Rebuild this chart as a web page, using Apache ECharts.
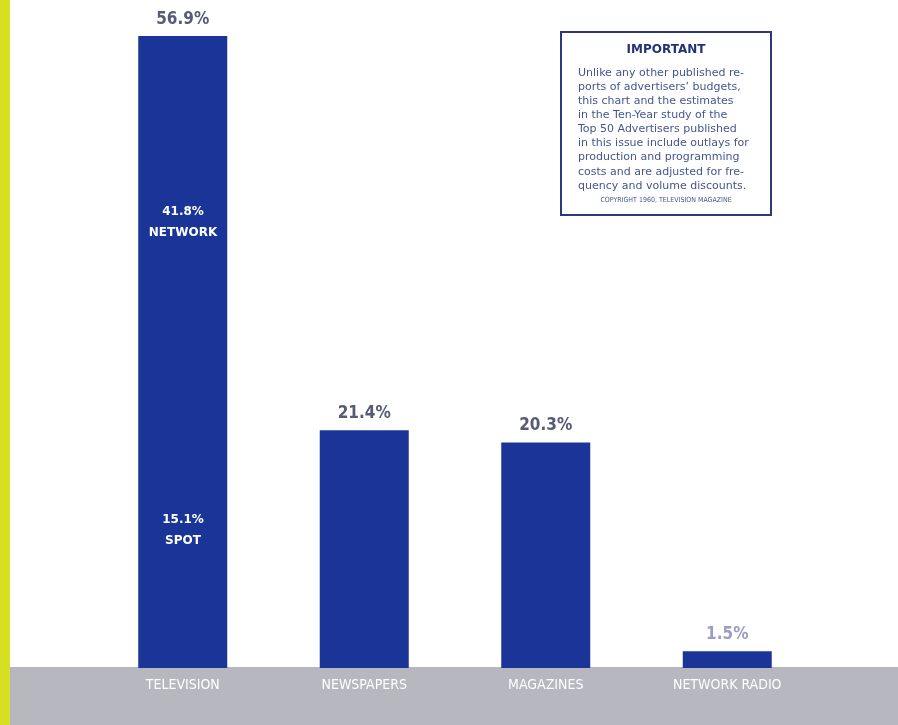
<!DOCTYPE html>
<html>
<head>
<meta charset="utf-8">
<script src="https://cdn.jsdelivr.net/npm/echarts@6/dist/echarts.min.js"></script>
<style>
html,body{margin:0;padding:0;background:#fff;}
#c{width:898px;height:725px;}
</style>
</head>
<body>
<div id="c"></div>
<script>
var categories = ['TELEVISION', 'NEWSPAPERS', 'MAGAZINES', 'NETWORK RADIO'];
var shares = [56.9, 21.4, 20.3, 1.5];
var tvSplitLabels = [['41.8%', 'NETWORK'], ['15.1%', 'SPOT']];
var noteTitle = 'IMPORTANT';
var noteLines = [
  'Unlike any other published re-',
  'ports of advertisers\u2019 budgets,',
  'this chart and the estimates',
  'in the Ten-Year study of the',
  'Top 50 Advertisers published',
  'in this issue include outlays for',
  'production and programming',
  'costs and are adjusted for fre-',
  'quency and volume discounts.'
];
var noteCopyright = 'COPYRIGHT 1960, TELEVISION MAGAZINE';

var condensed = '"DejaVu Sans Condensed"';
var chart = echarts.init(document.getElementById('c'));

var graphics = [
  {type:'rect', z:-1, shape:{x:0,y:0,width:10,height:725}, style:{fill:'#d6df22'}},
  {type:'rect', z:-1, shape:{x:10,y:667,width:888,height:58}, style:{fill:'#b7b7bf'}},
  {type:'rect', z:5, shape:{x:561,y:32,width:210,height:183}, style:{fill:'#ffffff', stroke:'#2b3a7c', lineWidth:2}},
  {type:'text', z:6, x:666, y:50, style:{text:noteTitle, fill:'#23337a', font:'bold 12px "DejaVu Sans"', align:'center', verticalAlign:'middle'}}
];
noteLines.forEach(function(t, i){
  graphics.push({type:'text', z:6, x:578, y:73 + i*14.1, style:{text:t, fill:'#44568f', font:'11px "DejaVu Sans"', align:'left', verticalAlign:'middle'}});
});
graphics.push({type:'text', z:6, x:666, y:200, style:{text:noteCopyright, fill:'#44568f', font:'7px "DejaVu Sans Condensed"', align:'center', verticalAlign:'middle'}});
var tvLabelY = [[212, 233], [520, 541]];
tvSplitLabels.forEach(function(pair, i){
  graphics.push({type:'text', z:20, x:183, y:tvLabelY[i][0], style:{text:pair[0], fill:'#ffffff', font:'bold 12px "DejaVu Sans"', align:'center', verticalAlign:'middle'}});
  graphics.push({type:'text', z:20, x:183, y:tvLabelY[i][1], style:{text:pair[1], fill:'#ffffff', font:'bold 12px "DejaVu Sans"', align:'center', verticalAlign:'middle'}});
});

chart.setOption({
  backgroundColor:'#ffffff',
  animation:false,
  grid:{left:92, right:80, top:36, bottom:57},
  xAxis:{
    type:'category', data:categories,
    axisLine:{show:false}, axisTick:{show:false},
    axisLabel:{color:'#ffffff', fontFamily:condensed, fontSize:14, margin:10}
  },
  yAxis:{
    type:'value', min:0, max:Math.max.apply(null, shares),
    show:false, splitLine:{show:false}
  },
  series:[{
    type:'bar', data:shares.map(function(v, i){
      return {value:v, label:{color: i === 3 ? '#9c9cc4' : '#565a76'}};
    }),
    barWidth:89,
    itemStyle:{color:'#1a3597'},
    label:{show:true, position:'top', distance:8, formatter:'{c}%', fontFamily:condensed, fontWeight:'bold', fontSize:17}
  }],
  graphic:graphics
});
</script>
</body>
</html>
